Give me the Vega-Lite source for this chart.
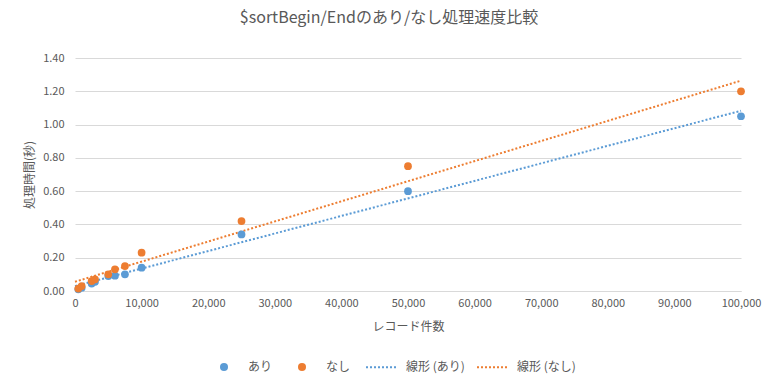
{
  "$schema": "https://vega.github.io/schema/vega-lite/v6.json",
  "width": 666,
  "height": 233,
  "autosize": {"type": "none"},
  "padding": {"left": 75, "top": 58, "right": 38, "bottom": 97},
  "background": "white",
  "title": {
    "text": "$sortBegin/Endのあり/なし処理速度比較",
    "font": "Noto Sans CJK JP",
    "fontSize": 16,
    "fontWeight": "normal",
    "color": "#595959",
    "anchor": "middle",
    "dx": -19,
    "offset": 26
  },
  "data": {
    "values": [
      {"records": 500, "series": "あり", "time": 0.01},
      {"records": 1000, "series": "あり", "time": 0.02},
      {"records": 2500, "series": "あり", "time": 0.045},
      {"records": 3000, "series": "あり", "time": 0.055},
      {"records": 5000, "series": "あり", "time": 0.09},
      {"records": 6000, "series": "あり", "time": 0.092},
      {"records": 7500, "series": "あり", "time": 0.1},
      {"records": 10000, "series": "あり", "time": 0.14},
      {"records": 25000, "series": "あり", "time": 0.34},
      {"records": 50000, "series": "あり", "time": 0.6},
      {"records": 100000, "series": "あり", "time": 1.05},
      {"records": 500, "series": "なし", "time": 0.015},
      {"records": 1000, "series": "なし", "time": 0.03},
      {"records": 2500, "series": "なし", "time": 0.06},
      {"records": 3000, "series": "なし", "time": 0.07},
      {"records": 5000, "series": "なし", "time": 0.1},
      {"records": 6000, "series": "なし", "time": 0.13},
      {"records": 7500, "series": "なし", "time": 0.15},
      {"records": 10000, "series": "なし", "time": 0.23},
      {"records": 25000, "series": "なし", "time": 0.42},
      {"records": 50000, "series": "なし", "time": 0.75},
      {"records": 100000, "series": "なし", "time": 1.2}
    ]
  },
  "encoding": {
    "x": {
      "field": "records",
      "type": "quantitative",
      "scale": {"domain": [0, 100000], "nice": false},
      "axis": {
        "title": "レコード件数",
        "values": [0, 10000, 20000, 30000, 40000, 50000, 60000, 70000, 80000, 90000, 100000],
        "format": ",.0f",
        "grid": false,
        "ticks": false,
        "labelFlush": false,
        "labelOverlap": false,
        "domainColor": "#d9d9d9",
        "labelPadding": 6,
        "titlePadding": 13
      }
    },
    "y": {
      "field": "time",
      "type": "quantitative",
      "scale": {"domain": [0, 1.4], "nice": false},
      "axis": {
        "title": "処理時間(秒)",
        "values": [0, 0.2, 0.4, 0.6, 0.8, 1.0, 1.2, 1.4],
        "format": ".2f",
        "domain": false,
        "ticks": false,
        "gridColor": "#d9d9d9",
        "labelPadding": 11,
        "titlePadding": 6
      }
    }
  },
  "layer": [
    {
      "transform": [
        {"regression": "time", "on": "records", "groupby": ["series"], "extent": [0, 100000]},
        {"calculate": "'線形 (' + datum.series + ')'", "as": "trend"}
      ],
      "mark": {"type": "line", "strokeDash": [2, 2], "strokeWidth": 2},
      "encoding": {
        "stroke": {
          "field": "trend",
          "type": "nominal",
          "scale": {"domain": ["線形 (あり)", "線形 (なし)"], "range": ["#5B9BD5", "#ED7D31"]},
          "legend": {
            "orient": "none",
            "legendX": 290,
            "legendY": 292.5,
            "direction": "horizontal",
            "title": null,
            "symbolType": "stroke",
            "symbolSize": 961,
            "symbolDash": [2, 2],
            "symbolStrokeWidth": 2,
            "labelOffset": 8,
            "columnPadding": 8
          }
        }
      }
    },
    {
      "mark": {"type": "circle", "size": 60, "opacity": 1},
      "encoding": {
        "fill": {
          "field": "series",
          "type": "nominal",
          "scale": {"domain": ["あり", "なし"], "range": ["#5B9BD5", "#ED7D31"]},
          "legend": {
            "orient": "none",
            "legendX": 143,
            "legendY": 303,
            "direction": "horizontal",
            "title": null,
            "symbolType": "circle",
            "symbolSize": 64,
            "symbolStrokeWidth": 0,
            "labelOffset": 18,
            "columnPadding": 23
          }
        }
      }
    }
  ],
  "config": {
    "view": {"stroke": null},
    "font": "Noto Sans CJK JP",
    "axis": {
      "labelColor": "#595959",
      "labelFontSize": 11,
      "labelFont": "Noto Sans CJK JP",
      "titleColor": "#595959",
      "titleFontSize": 12,
      "titleFontWeight": "normal",
      "titleFont": "Noto Sans CJK JP"
    },
    "legend": {
      "labelColor": "#595959",
      "labelFontSize": 12,
      "labelFont": "Noto Sans CJK JP"
    }
  }
}
